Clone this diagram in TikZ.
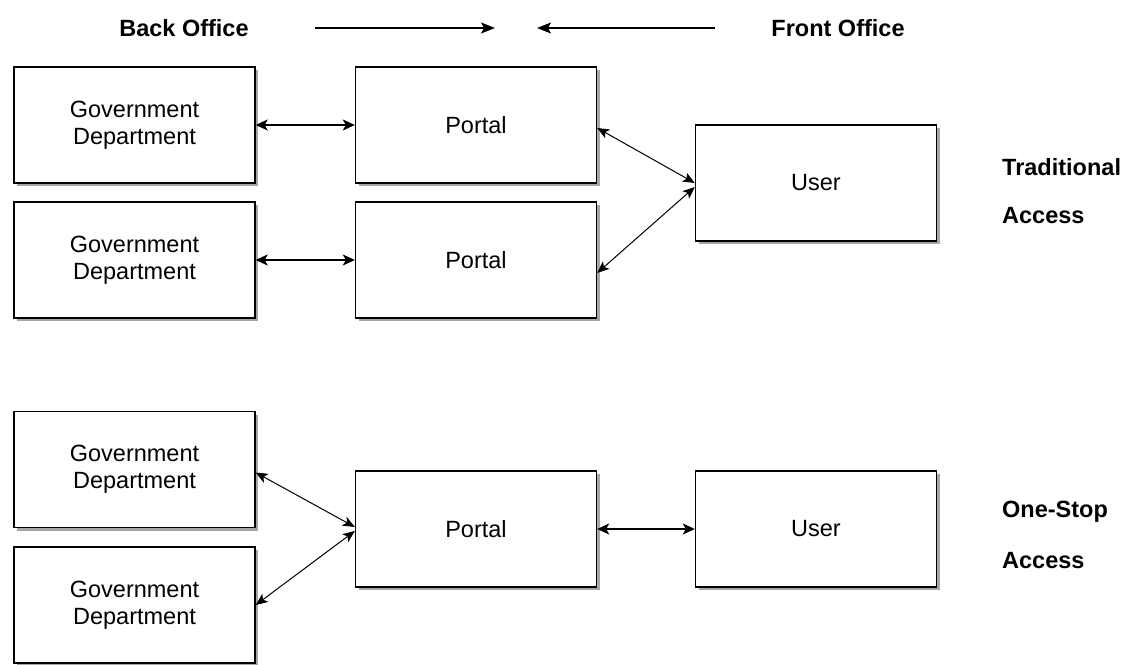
\documentclass[tikz,border=0pt]{standalone}
\usepackage{fontspec}
\setmainfont{Liberation Sans}
\usetikzlibrary{arrows.meta,shadows}
\begin{document}
\begin{tikzpicture}[x=1pt,y=-1pt,
  box/.style={draw=black, line width=1.4pt, fill=white, minimum width=241pt, minimum height=116pt,
    inner sep=0pt, align=center, font=\fontsize{23.5}{27}\selectfont,
    drop shadow={shadow xshift=3pt, shadow yshift=-3pt, fill=black!35, opacity=1}},
  lbl/.style={font=\bfseries\fontsize{23.5}{27}\selectfont, inner sep=0pt},
  side/.style={lbl, anchor=west},
  thick arrow/.style={{Stealth[length=12pt,width=11pt,inset=3pt]}-{Stealth[length=12pt,width=11pt,inset=3pt]}, line width=1.5pt},
  thin arrow/.style={{Stealth[length=12pt,width=10pt,inset=3pt]}-{Stealth[length=12pt,width=10pt,inset=3pt]}, line width=1pt},
  one arrow/.style={-{Stealth[length=14pt,width=11pt,inset=3pt]}, line width=1.2pt}]
\useasboundingbox[fill=white] (0,0) rectangle (1126,664);

% header
\node[lbl] (back) at (184,28) {Back Office};
\node[lbl] (front) at (838,28) {Front Office};
\coordinate (ba1) at (315,28);
\coordinate (ba2) at (495,28);
\coordinate (fa1) at (715,28);
\coordinate (fa2) at (537,28);
\draw[one arrow] (ba1) -- (ba2);
\draw[one arrow] (fa1) -- (fa2);

% traditional access
\node[box] (g1) at (134.5,125) {Government\\Department};
\node[box] (p1) at (476,125) {Portal};
\node[box] (g2) at (134.5,260) {Government\\Department};
\node[box] (p2) at (476,260) {Portal};
\node[box] (u1) at (816,183) {User};
\node[side] (t1) at (1002,167) {Traditional};
\node[side] (t2) at (1002,216) {Access};

\draw[thick arrow] (g1.east) -- (p1.west);
\draw[thick arrow] (g2.east) -- (p2.west);
\draw[thin arrow] ([yshift=-3pt]p1.east) -- (u1.west);
\draw[thin arrow] ([yshift=-13pt]p2.east) -- ([yshift=-4pt]u1.west);

% one-stop access
\node[box] (g3) at (134.5,469.5) {Government\\Department};
\node[box] (g4) at (134.5,605) {Government\\Department};
\node[box] (p3) at (476,529) {Portal};
\node[box] (u2) at (816,529) {User};
\node[side] (o1) at (1002,512) {One-Stop};
\node[side] (o2) at (1002,561) {Access};

\draw[thin arrow] ([yshift=-3pt]g3.east) -- ([yshift=2pt]p3.west);
\draw[thin arrow] (g4.east) -- ([yshift=-2pt]p3.west);
\draw[thick arrow] (p3.east) -- (u2.west);
\end{tikzpicture}
\end{document}
